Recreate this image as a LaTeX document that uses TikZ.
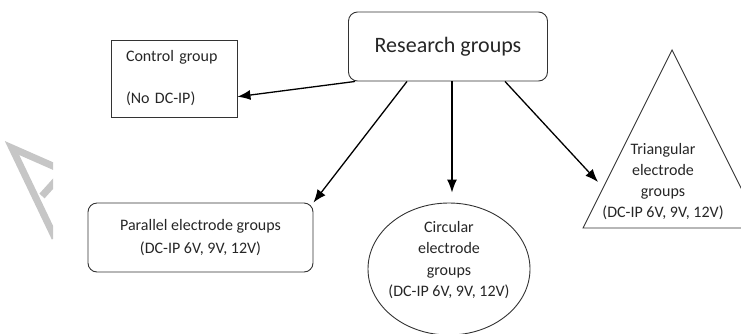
\documentclass[tikz,border=0pt]{standalone}
\usepackage{fontspec}
\setmainfont{Carlito}
\usepackage{xcolor}
\usepackage{tikz}
\usetikzlibrary{positioning}
\usetikzlibrary{arrows.meta}
\usetikzlibrary{shapes.geometric}
\tikzset{edge/.style = {-{Latex[length=13pt,width=10pt]}, line width=1.3pt}}

\begin{document}
\begin{tikzpicture}[x=1pt,y=-1pt,text=black!85,
    box node/.style={draw=black!80,line width=0.9pt,font=\fontsize{16}{23}\selectfont,align=center},
    round node/.style={box node,rounded corners=9pt},
    body text/.style={align=center,font=\fontsize{16}{21.3}\selectfont}]
            \useasboundingbox (0,0) rectangle (741,333);

            % watermark
            \begin{scope}
                \clip (0,0) rectangle (53,333);
                \draw[gray!45,line width=7pt] (62,170) -- (12,148) -- (55,238);
                \draw[gray!45,line width=7pt] (42,196) -- (60,176);
            \end{scope}

            \node[round node,minimum width=199pt,minimum height=69pt,font=\fontsize{22}{26}\selectfont] (research) at (448,46.5) {Research groups};
            \node[box node,align=left,text width=96pt,inner xsep=15pt,minimum height=77pt,rounded corners=0pt] (control) at (174,78.5) {Control group\\[19pt](No DC-IP)};
            \node[round node,minimum width=225pt,minimum height=69pt] (parallel) at (200.5,237.5) {Parallel electrode groups\\(DC-IP 6V, 9V, 12V)};
            \node[box node,ellipse,minimum width=162pt,minimum height=132pt] (circular) at (449,269) {};
            \node[body text] (circtext) at (449,260) {Circular\\electrode\\groups\\(DC-IP 6V, 9V, 12V)};

            \coordinate (apex) at (672,50);
            \coordinate (baseL) at (583,228);
            \coordinate (baseR) at (761,228);
            \draw[draw=black!80,line width=0.9pt] (apex) -- (baseL) -- (baseR) -- cycle;
            \node[body text,font=\fontsize{16}{21}\selectfont] (tritext) at (663,181.5) {Triangular\\electrode\\groups\\(DC-IP 6V, 9V, 12V)};
            \coordinate (trihit) at (598,182);

            \path ([xshift=7pt]research.south west) edge[edge] (control.-16);
            \path ([xshift=-41pt]research.south) edge[edge] (parallel.north east);
            \path ([xshift=4pt]research.south) edge[edge,shorten >=10pt] ([xshift=3pt]circular.north);
            \path ([xshift=57pt]research.south) edge[edge] (trihit);

        \end{tikzpicture}
\end{document}
